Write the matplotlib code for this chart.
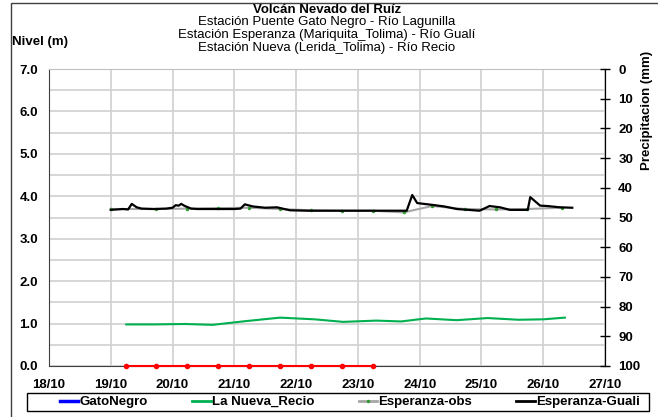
import matplotlib.pyplot as plt
from matplotlib.lines import Line2D
from matplotlib.patches import Rectangle

plt.rcParams['font.family'] = ['Liberation Sans', 'DejaVu Sans']

# Esperanza-Guali (black), day of October vs level (m)
guali_t = [19.0, 19.2, 19.28, 19.34, 19.42, 19.5, 19.7, 19.9, 20.0, 20.05, 20.1, 20.14,
           20.2, 20.3, 20.4, 20.7, 21.0, 21.1, 21.17, 21.3, 21.5, 21.69, 21.9, 22.2,
           22.6, 23.0, 23.4, 23.79, 23.88, 23.96, 24.19, 24.4, 24.6, 24.97, 25.13,
           25.3, 25.46, 25.75, 25.79, 25.95, 26.07, 26.27, 26.47]
guali_y = [3.68, 3.70, 3.69, 3.82, 3.74, 3.71, 3.70, 3.71, 3.73, 3.79, 3.78, 3.82,
           3.77, 3.71, 3.70, 3.70, 3.70, 3.71, 3.81, 3.76, 3.73, 3.74, 3.67, 3.66,
           3.66, 3.66, 3.66, 3.66, 4.03, 3.84, 3.80, 3.76, 3.70, 3.66, 3.77,
           3.74, 3.68, 3.68, 3.98, 3.78, 3.77, 3.74, 3.73]

# Esperanza-obs (grey)
obs_t = [19.0, 19.74, 20.24, 20.74, 21.24, 21.74, 22.24, 22.74, 23.24, 23.74,
         24.2, 24.73, 25.24, 25.74, 26.3]
obs_y = [3.70, 3.70, 3.71, 3.72, 3.73, 3.70, 3.67, 3.66, 3.66, 3.62,
         3.77, 3.70, 3.69, 3.70, 3.73]

# La Nueva_Recio (green)
recio_t = [19.25, 19.7, 20.2, 20.65, 21.2, 21.74, 22.3, 22.76, 23.3, 23.7, 24.1,
           24.6, 25.1, 25.6, 26.0, 26.35]
recio_y = [0.98, 0.98, 0.99, 0.97, 1.06, 1.14, 1.10, 1.04, 1.07, 1.05, 1.12,
           1.08, 1.13, 1.09, 1.10, 1.14]

# red series at 0
red_t = [19.24, 19.74, 20.24, 20.74, 21.24, 21.74, 22.24, 22.74, 23.24]
red_y = [0, 0, 0, 0, 0, 0, 0, 0, 0]

day_ticks = list(range(18, 28))
day_labels = ['%d/10' % d for d in day_ticks]

fs = 9.5
fig = plt.figure(figsize=(6.58, 4.17), dpi=100)
ax = fig.add_axes([49 / 658, 1 - 366 / 417, 556 / 658, 297 / 417])

ax.plot(obs_t, obs_y, color='#a6a6a6', lw=1.5, marker='o', ms=1.5,
        mfc='#339933', mec='#339933', zorder=3)
ax.plot(guali_t, guali_y, color='black', lw=1.6, zorder=4)
ax.plot(recio_t, recio_y, color='#00b050', lw=1.5, zorder=3)
ax.plot(red_t, red_y, color='red', lw=1.5, marker='o', ms=3,
        mfc='red', mec='red', zorder=5, clip_on=False)

ax.set_xlim(18, 27)
ax.set_ylim(0, 7)
ax.set_xticks(day_ticks)
ax.set_xticklabels(day_labels, fontweight='bold', fontsize=fs)
ax.set_yticks([i * 0.5 for i in range(15)])
ax.set_yticklabels(['%.1f' % (i * 0.5) if i % 2 == 0 else '' for i in range(15)],
                   fontweight='bold', fontsize=fs)
ax.tick_params(axis='x', length=0, pad=9)
ax.tick_params(axis='y', length=0, pad=8)
ax.grid(True, color='#d0d0d0', lw=1.2)
ax.set_axisbelow(True)
ax.spines['top'].set_color('#c0c0c0')
ax.spines['left'].set_color('#404040')
ax.spines['bottom'].set_color('#404040')

ax2 = ax.twinx()
ax2.set_ylim(100, 0)
ax2.set_yticks(range(0, 101, 10))
ax2.set_yticklabels([str(v) for v in range(0, 101, 10)], fontweight='bold', fontsize=fs)
ax2.tick_params(axis='y', direction='inout', length=7, width=1, pad=6)
ax2.spines['right'].set_color('black')
for s in ['top', 'left', 'bottom']:
    ax2.spines[s].set_visible(False)

fig.text(327 / 658, 1 - 10 / 417, 'Volcán Nevado del Ruíz', ha='center', va='center',
         fontsize=fs, fontweight='bold')
fig.text(327 / 658, 1 - 22.5 / 417, 'Estación Puente Gato Negro - Río Lagunilla',
         ha='center', va='center', fontsize=fs)
fig.text(327 / 658, 1 - 35 / 417, 'Estación Esperanza (Mariquita_Tolima) - Río Gualí',
         ha='center', va='center', fontsize=fs)
fig.text(327 / 658, 1 - 47.5 / 417, 'Estación Nueva (Lerida_Tolima) - Río Recio',
         ha='center', va='center', fontsize=fs)
fig.text(12 / 658, 1 - 42 / 417, 'Nivel (m)', ha='left', va='center',
         fontsize=fs, fontweight='bold')
fig.text(647 / 658, 1 - 110 / 417, 'Precipitacion (mm)', ha='center', va='center',
         rotation=90, fontsize=fs, fontweight='bold')

handles = [
    Line2D([], [], color='#0000ff', lw=2.5),
    Line2D([], [], color='#00b050', lw=2),
    Line2D([], [], color='#a6a6a6', lw=2, marker='o', ms=1.5, mfc='#339933', mec='#339933'),
    Line2D([], [], color='black', lw=2),
]
labels = ['GatoNegro', 'La Nueva_Recio', 'Esperanza-obs', 'Esperanza-Guali']
leg = fig.legend(handles, labels, loc='center', ncol=4, mode='expand',
                 bbox_to_anchor=(58 / 658, 1 - 411 / 417, 584 / 658, 18 / 417),
                 prop={'weight': 'bold', 'size': fs}, frameon=False,
                 handlelength=1.4, handletextpad=0.1, borderpad=0.15, borderaxespad=0)
fig.add_artist(Rectangle((27 / 658, 1 - 411 / 417), 622 / 658, 18 / 417,
                         transform=fig.transFigure, fill=False, edgecolor='black', lw=1))

fig.add_artist(Rectangle((11 / 658, -0.01), 1, 1.01 - 3 / 417, transform=fig.transFigure,
                         fill=False, edgecolor='#404040', lw=1))

fig.savefig('out.png', dpi=100)
